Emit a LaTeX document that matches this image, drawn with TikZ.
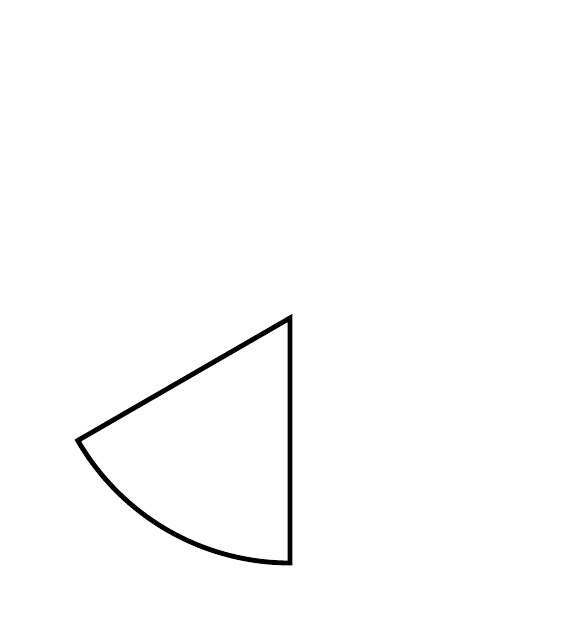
\documentclass[tikz,border=0pt]{standalone}
\begin{document}
\begin{tikzpicture}[x=1pt,y=1pt,sector/.style={draw=black,line width=4.8pt,fill=white}]
\useasboundingbox (0,0) rectangle (585,640);
\coordinate (apex) at (290,322);
\coordinate (bottom) at (290,77);
\draw[sector] (apex) -- (bottom) arc[start angle=270,end angle=210,radius=245] -- cycle;
\end{tikzpicture}
\end{document}
